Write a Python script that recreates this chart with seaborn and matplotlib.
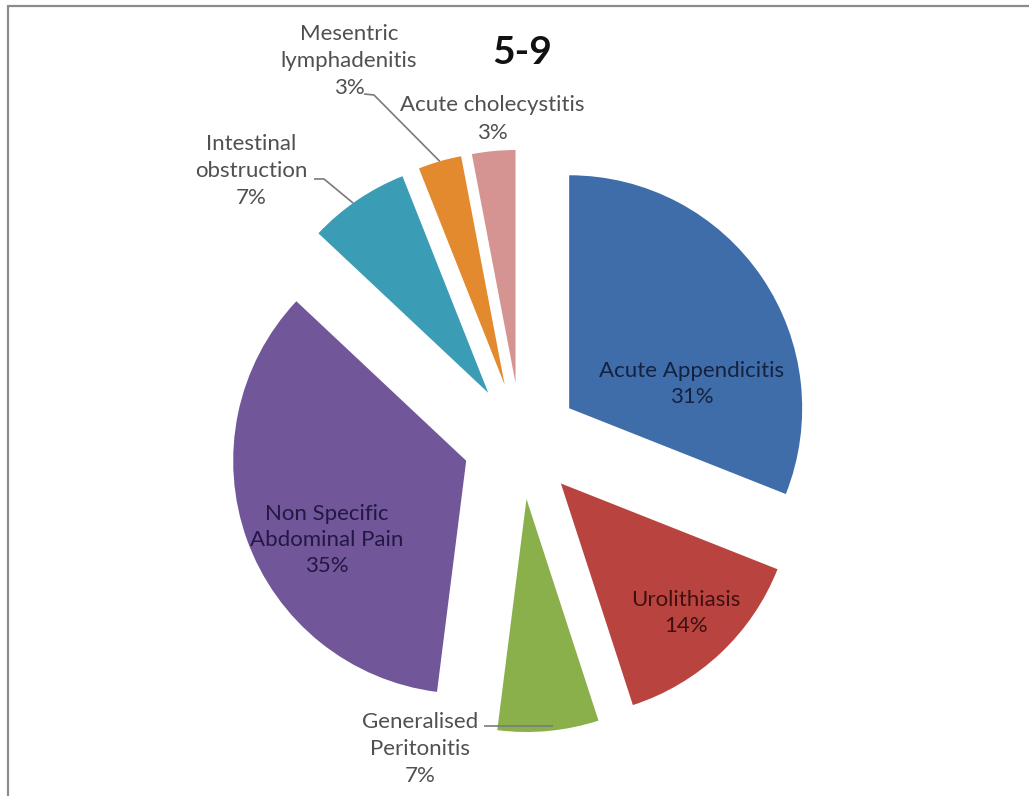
import matplotlib
matplotlib.use("Agg")
import matplotlib.pyplot as plt
import seaborn as sns
import numpy as np

# Causes of acute abdominal pain, age group 5-9
categories = [
    "Acute Appendicitis",
    "Urolithiasis",
    "Generalised\nPeritonitis",
    "Non Specific\nAbdominal Pain",
    "Intestinal\nobstruction",
    "Mesentric\nlymphadenitis",
    "Acute cholecystitis",
]
shares = [31, 14, 7, 35, 7, 3, 3]
colors = ["#3F6DAA", "#B9433F", "#8AB04B", "#71579A", "#3A9CB5", "#E38A2F", "#D59391"]
title = "5-9"

sns.set_theme(style="white")
plt.rcParams["font.family"] = ["Lato", "DejaVu Sans"]

W, H = 1029, 796
fig = plt.figure(figsize=(W / 100, H / 100), dpi=100)
ax = fig.add_axes([0, 0, 1, 1])


def fy(y):
    """Convert a top-down pixel row into the axis' y coordinate."""
    return H - y


radius = 233
center = (521, fy(441))
offset = 0.25 * radius

wedges, _ = ax.pie(
    shares,
    colors=colors,
    startangle=90,
    counterclock=False,
    explode=[offset] * len(shares),
    radius=radius,
    center=center,
    wedgeprops=dict(linewidth=0),
)
ax.set_xlim(0, W)
ax.set_ylim(0, H)
ax.set_aspect("equal")
ax.axis("off")

label_font = 16
outer_color = "#505050"


def pct(v):
    return f"{v}%"


def edge_point(w, frac=0.5, rfrac=1.0):
    """Point on a wedge's outer arc, frac along its angular span."""
    t = np.deg2rad(w.theta1 + frac * (w.theta2 - w.theta1))
    cx, cy = w.center
    return cx + w.r * rfrac * np.cos(t), cy + w.r * rfrac * np.sin(t)


# Labels drawn inside the large slices
inside = {
    0: ((692, 384), "#14223F"),
    1: ((686, 613), "#3E1010"),
    3: ((327, 540), "#231744"),
}
for i, ((x, y), c) in inside.items():
    ax.text(x, fy(y), f"{categories[i]}\n{pct(shares[i])}", ha="center", va="center",
            fontsize=label_font, color=c, linespacing=1.35)

# Labels outside the small slices
outside = {
    2: (420, 749),
    4: (251, 171),
    5: (349, 61),
    6: (492, 119),
}
for i, (x, y) in outside.items():
    ax.text(x, fy(y), f"{categories[i]}\n{pct(shares[i])}", ha="center", va="center",
            fontsize=label_font, color=outer_color, linespacing=1.45)

# Leader lines from labels to their slices
line_kw = dict(color="#7a7a7a", linewidth=1.2, solid_capstyle="butt")
# Generalised Peritonitis
px, py = edge_point(wedges[2], 0.55, 0.97)
ax.plot([484, px], [fy(726), fy(726)], **line_kw)
# Intestinal obstruction
px, py = edge_point(wedges[4], 0.55)
ax.plot([314, 324, px], [fy(179), fy(179), py], **line_kw)
# Mesentric lymphadenitis
px, py = edge_point(wedges[5], 0.5)
ax.plot([364, 374, px], [fy(94), fy(95), py], **line_kw)

ax.text(522, fy(52), title, ha="center", va="center", fontsize=28,
        fontweight="bold", color="#111111")

# Chart frame edges
fig.add_artist(plt.Line2D([8 / W, 1], [1 - 6 / H, 1 - 6 / H], color="#8c8c8c", linewidth=1.6))
fig.add_artist(plt.Line2D([8 / W, 8 / W], [0, 1 - 6 / H], color="#8c8c8c", linewidth=1.6))

fig.savefig("out.png", dpi=100, facecolor="white")
